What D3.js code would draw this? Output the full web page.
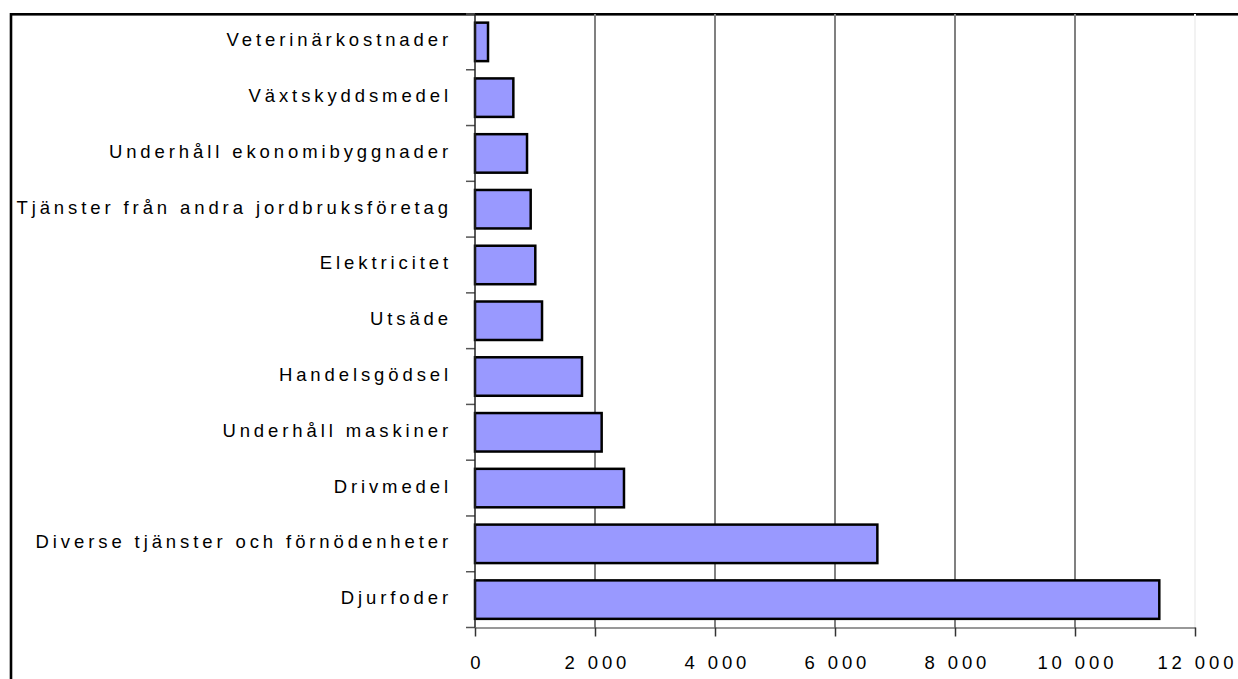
<!DOCTYPE html>
<html>
<head>
<meta charset="utf-8">
<script src="https://cdn.jsdelivr.net/npm/d3@7"></script>
<style>
  html, body { margin: 0; padding: 0; background: #fff; }
  svg { display: block; }
  text { font-family: "Liberation Sans", Arial, sans-serif; font-size: 18.5px; fill: #000; letter-spacing: 3.9px; }
</style>
</head>
<body>
<svg id="chart" width="1238" height="679"></svg>
<script>
const categories = [
  "Veterinärkostnader",
  "Växtskyddsmedel",
  "Underhåll ekonomibyggnader",
  "Tjänster från andra jordbruksföretag",
  "Elektricitet",
  "Utsäde",
  "Handelsgödsel",
  "Underhåll maskiner",
  "Drivmedel",
  "Diverse tjänster och förnödenheter",
  "Djurfoder"
];
const values = [217, 639, 867, 928, 1005, 1117, 1783, 2111, 2483, 6706, 11405];
const xTicks = [0, 2000, 4000, 6000, 8000, 10000, 12000];
const xTickLabels = ["0", "2 000", "4 000", "6 000", "8 000", "10 000", "12 000"];

const svg = d3.select("#chart");
const mLeft = 475, mRight = 1195, mTop = 14, mBottom = 627.5;

const x = d3.scaleLinear().domain([0, 12000]).range([mLeft, mRight]);
const y = d3.scaleBand().domain(categories).range([mTop, mBottom]).paddingInner(0.31).paddingOuter(0.155);
const step = y.step();

// outer border
svg.append("rect")
  .attr("x", 11).attr("y", 14.3)
  .attr("width", 1400).attr("height", 1000)
  .attr("fill", "none").attr("stroke", "#000").attr("stroke-width", 2.6);

// gridlines
svg.append("g").selectAll("line")
  .data(xTicks.slice(1))
  .join("line")
  .attr("x1", d => x(d)).attr("x2", d => x(d))
  .attr("y1", mTop).attr("y2", mBottom)
  .attr("stroke", d => d === 12000 ? "#f2f2f2" : "#808080")
  .attr("stroke-width", 2);

// bars
svg.append("g").selectAll("rect")
  .data(categories)
  .join("rect")
  .attr("x", x(0))
  .attr("y", d => y(d))
  .attr("width", (d, i) => x(values[i]) - x(0))
  .attr("height", y.bandwidth())
  .attr("fill", "#9999FF")
  .attr("stroke", "#000")
  .attr("stroke-width", 2.5);

// y axis ticks at band boundaries
const boundaries = d3.range(categories.length + 1).map(i => mTop + i * step);
svg.append("g").selectAll("line")
  .data(boundaries)
  .join("line")
  .attr("x1", mLeft - 9).attr("x2", mLeft)
  .attr("y1", d => d).attr("y2", d => d)
  .attr("stroke", "#555").attr("stroke-width", 1.5);

// y axis line
svg.append("line")
  .attr("x1", mLeft).attr("x2", mLeft)
  .attr("y1", mTop).attr("y2", mBottom)
  .attr("stroke", "#222").attr("stroke-width", 1.5);

// x axis
const xAxis = d3.axisBottom(x)
  .tickValues(xTicks)
  .tickFormat((d, i) => xTickLabels[i])
  .tickSize(9)
  .tickSizeOuter(0)
  .tickPadding(19);
const gx = svg.append("g").attr("transform", `translate(0,${mBottom})`).call(xAxis);
gx.select(".domain").attr("stroke", "#333").attr("stroke-width", 1.2);
gx.selectAll(".tick line").attr("stroke", "#333").attr("stroke-width", 1.5);
gx.selectAll(".tick text")
  .attr("font-family", null).attr("font-size", null)
  .attr("dy", "0.71em")
  .attr("dx", 1.9)
  .style("fill", "#000");

// category labels
svg.append("g").selectAll("text")
  .data(categories)
  .join("text")
  .attr("x", 452)
  .attr("y", d => y(d) + y.bandwidth() / 2 + 4.5)
  .attr("text-anchor", "end")
  .text(d => d);
</script>
</body>
</html>
